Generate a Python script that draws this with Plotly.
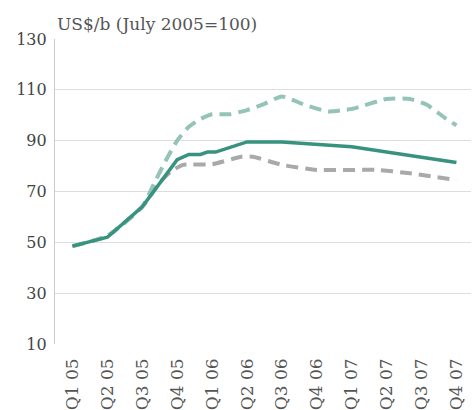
import plotly.graph_objects as go

# x positions are in months from Q1 05 (0) to Q4 07 (33)
QUARTER_LABELS = ["Q1 05", "Q2 05", "Q3 05", "Q4 05", "Q1 06", "Q2 06",
                  "Q3 06", "Q4 06", "Q1 07", "Q2 07", "Q3 07", "Q4 07"]
QUARTER_POS = [0, 3, 6, 9, 12, 15, 18, 21, 24, 27, 30, 33]

solid_x = [0, 3, 6, 9, 10, 11, 11.6, 12.3, 15, 18, 24, 33]
solid_y = [48.5, 52, 64, 82.5, 84.6, 84.6, 85.5, 85.5, 89.5, 89.5, 87.6, 81.4]

light_x = [0, 3, 6, 7, 8, 9, 10, 11, 12, 13.5, 15, 16.5, 18, 20, 22, 24, 27, 29, 30.5, 32, 33]
light_y = [48.5, 52.5, 64, 73, 82, 90, 95.5, 98.5, 100.4, 100.4, 102, 104.5, 107.4,
           104, 101.5, 102.5, 106.4, 106.4, 104, 99, 96]

gray_x = [0, 3, 6, 7.5, 8.5, 9.5, 12, 14.5, 15.5, 18, 21, 26, 29, 33]
gray_y = [48.5, 52.5, 64, 73.5, 78, 80.5, 80.7, 83.7, 83.7, 80.5, 78.5, 78.5, 77.2, 74.5]

FONT = "DejaVu Serif"
TXT = "#444444"

fig = go.Figure()
fig.add_trace(go.Scatter(x=gray_x, y=gray_y, mode="lines",
                         line=dict(color="#a9a9a9", width=4, dash="12px,7px", shape="spline", smoothing=0.5)))
fig.add_trace(go.Scatter(x=light_x, y=light_y, mode="lines",
                         line=dict(color="#94c3b7", width=4, dash="12px,7px", shape="spline", smoothing=0.5)))
fig.add_trace(go.Scatter(x=solid_x, y=solid_y, mode="lines",
                         line=dict(color="#37937f", width=3.5)))

fig.update_layout(
    width=472, height=410,
    margin=dict(l=55, r=1, t=39, b=66),
    paper_bgcolor="white", plot_bgcolor="white",
    showlegend=False,
    font=dict(family=FONT, size=17, color=TXT),
    xaxis=dict(range=[-1.5, 34.25], tickvals=QUARTER_POS, ticktext=QUARTER_LABELS,
               tickangle=-90, showgrid=False, zeroline=False, showline=False,
               tickfont=dict(size=17, color="#555555"), ticks="", ticklabelstandoff=10,
               automargin=False),
    yaxis=dict(range=[10, 130], tickvals=[10, 30, 50, 70, 90, 110, 130],
               showgrid=True, gridcolor="#dddddd", gridwidth=1.2, zeroline=False,
               showline=True, linecolor="#cccccc", linewidth=1.2, ticks="",
               tickfont=dict(size=16, color=TXT), ticklabelstandoff=4,
               automargin=False),
    annotations=[dict(text="US$/b (July 2005=100)", xref="paper", yref="paper",
                      x=0, y=1.01, xanchor="left", yanchor="bottom", showarrow=False,
                      font=dict(family=FONT, size=17, color="#555555"))],
)

fig.write_html("out.html", config={"displayModeBar": False},
               post_script="document.body.style.margin='0';")
